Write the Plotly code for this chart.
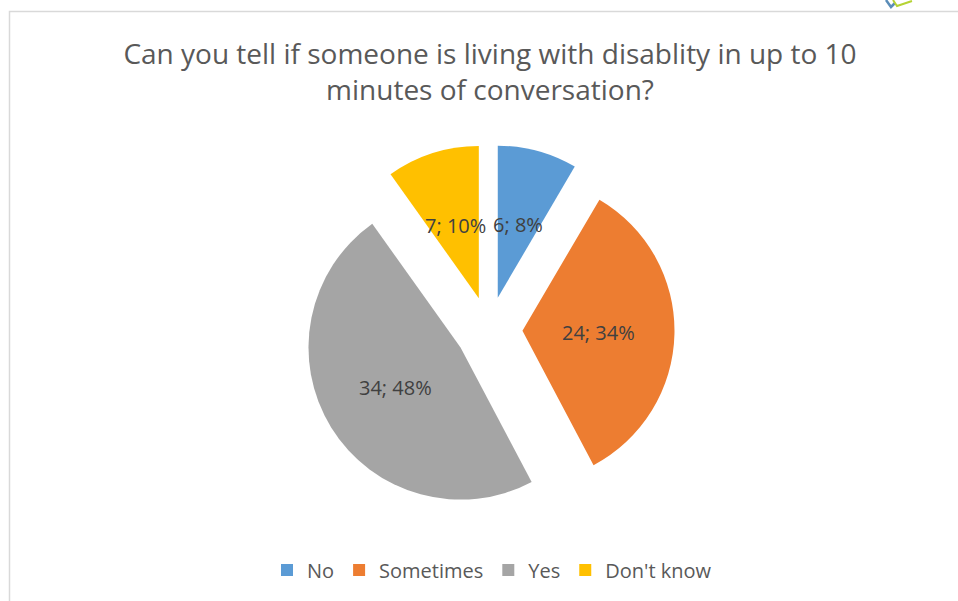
import math
import plotly.graph_objects as go

# Survey answers
categories = ["No", "Sometimes", "Yes", "Don't know"]
counts = [6, 24, 34, 7]
colors = ["#5B9BD5", "#ED7D31", "#A5A5A5", "#FFC000"]

W, H = 958, 601
PULL = 0.22
CX, CY = 489.0, 330.0          # pie centre in pixels
DOMAIN_PX = 371.0              # side of the pie domain in pixels
R = DOMAIN_PX / 2 / (1 + PULL) # radius after plotly reserves room for the pull

total = sum(counts)
pct_labels = [f"{c}; {round(100 * c / total)}%" for c in counts]

fig = go.Figure()
fig.add_trace(go.Pie(
    labels=categories,
    values=counts,
    marker=dict(colors=colors, line=dict(width=0)),
    pull=[PULL] * len(counts),
    sort=False,
    direction="clockwise",
    rotation=0,
    textinfo="none",
    hoverinfo="label+value+percent",
    domain=dict(
        x=[(CX - DOMAIN_PX / 2) / W, (CX + DOMAIN_PX / 2) / W],
        y=[1 - (CY + DOMAIN_PX / 2) / H, 1 - (CY - DOMAIN_PX / 2) / H],
    ),
))

# Data labels placed half-way along each exploded slice
annotations = []
cum = 0
for c, txt in zip(counts, pct_labels):
    mid = (cum + c / 2) / total * 2 * math.pi
    cum += c
    d = (PULL + 0.5) * R
    px = CX + d * math.sin(mid)
    py = CY - d * math.cos(mid)
    annotations.append(dict(
        x=px / W, y=1 - py / H, xref="paper", yref="paper",
        text=txt, showarrow=False,
        font=dict(family="Open Sans", size=20, color="#404040"),
        xanchor="center", yanchor="middle",
    ))

shapes = [
    # chart frame
    dict(type="rect", xref="paper", yref="paper",
         x0=9.5 / W, x1=1.2, y0=-0.2, y1=1 - 11.5 / H,
         line=dict(color="#D9D9D9", width=1.5), fillcolor="rgba(0,0,0,0)"),
    # corner logo fragment
    dict(type="path", xref="paper", yref="paper",
         path=f"M {886/W} {1} L {891/W} {1-7/H} L {895/W} {1-3/H}",
         line=dict(color="#5B8DB8", width=2.5)),
    dict(type="path", xref="paper", yref="paper",
         path=f"M {893/W} {1} L {897/W} {1-6/H} L {912/W} {1-1/H}",
         line=dict(color="#B5D334", width=2)),
]

fig.update_layout(
    width=W, height=H,
    margin=dict(l=0, r=0, t=0, b=0),
    paper_bgcolor="white",
    plot_bgcolor="white",
    font=dict(family="Open Sans", color="#595959"),
    title=dict(
        text="Can you tell if someone is living with disablity in up to 10<br>minutes of conversation?",
        x=490 / W, xanchor="center",
        y=1 - 64 / H, yanchor="top",
        font=dict(family="Open Sans", size=28, color="#595959"),
    ),
    legend=dict(
        orientation="h",
        x=492 / W, xanchor="center",
        y=1 - 570 / H, yanchor="middle",
        font=dict(family="Open Sans", size=20, color="#595959"),
        traceorder="normal",
    ),
    annotations=annotations,
    shapes=shapes,
)

fig.write_html("out.html")
